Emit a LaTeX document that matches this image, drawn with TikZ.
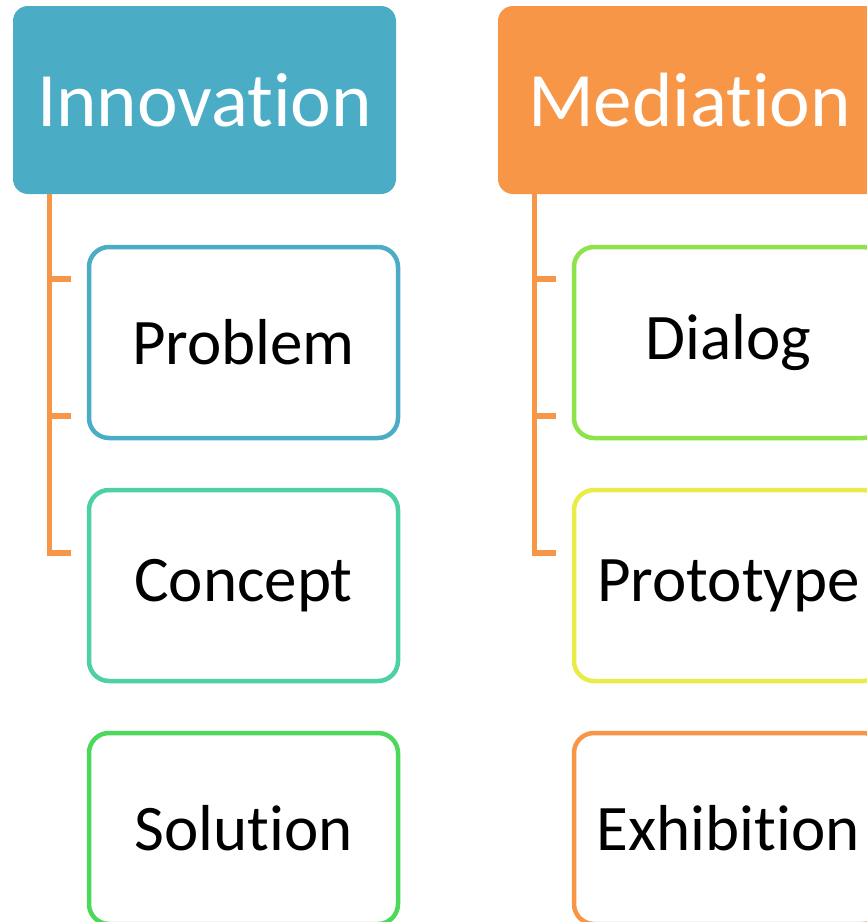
\documentclass[tikz,border=0pt]{standalone}
\usepackage{fontspec}
\setmainfont{Carlito}[Ligatures=NoCommon]
\definecolor{innoblue}{HTML}{4BACC6}
\definecolor{mediorange}{HTML}{F79646}
\definecolor{conceptgreen}{HTML}{4ED1A2}
\definecolor{solutiongreen}{HTML}{4CD85A}
\definecolor{dialoggreen}{HTML}{8EE34A}
\definecolor{protoyellow}{HTML}{E9EC48}

\begin{document}
\begin{tikzpicture}[x=1pt,y=-1pt,
		header/.style={fill=#1, rounded corners=15pt, minimum width=383pt, minimum height=188pt,
			text=white, font=\fontsize{77}{80}\selectfont, inner sep=0pt},
		item/.style={draw=#1, line width=4.5pt, rounded corners=20pt, minimum width=309pt, minimum height=191pt,
			fill=white, font=\fontsize{65}{70}\selectfont, inner sep=0pt},
		tree/.style={draw=mediorange, line width=5.5pt}]
	\useasboundingbox (0,0) rectangle (867,922);
	\clip (0,0) rectangle (867,922);
	% headers
	\node[header=innoblue] (inno) at (204.5,100) {Innovation};
	\node[header=mediorange] (medi) at (689.5,100) {Mediation};
	% left column
	\node[item=innoblue] (problem) at (243.5,342.5) {Problem};
	\node[item=conceptgreen] (concept) at (243.5,585.5) {Concept};
	\node[item=solutiongreen] (solution) at (243.5,828.5) {Solution};
	% right column
	\node[item=dialoggreen] (dialog) at (728.5,342.5) {Dialog};
	\node[item=protoyellow] (prototype) at (728.5,585.5) {Prototype};
	\node[item=mediorange] (exhibition) at (728.5,828.5) {Exhibition};
	% connector trees
	\coordinate (innoA) at (71,279);
	\coordinate (innoB) at (71,416);
	\coordinate (innoC) at (71,553);
	\coordinate (mediA) at (556,279);
	\coordinate (mediB) at (556,416);
	\coordinate (mediC) at (556,553);
	\draw[tree] (inno.south -| 49.5,0) -- (49.5,553) -- (innoC);
	\draw[tree] (49.5,279) -- (innoA);
	\draw[tree] (49.5,416) -- (innoB);
	\draw[tree] (medi.south -| 534.5,0) -- (534.5,553) -- (mediC);
	\draw[tree] (534.5,279) -- (mediA);
	\draw[tree] (534.5,416) -- (mediB);
\end{tikzpicture}
\end{document}
